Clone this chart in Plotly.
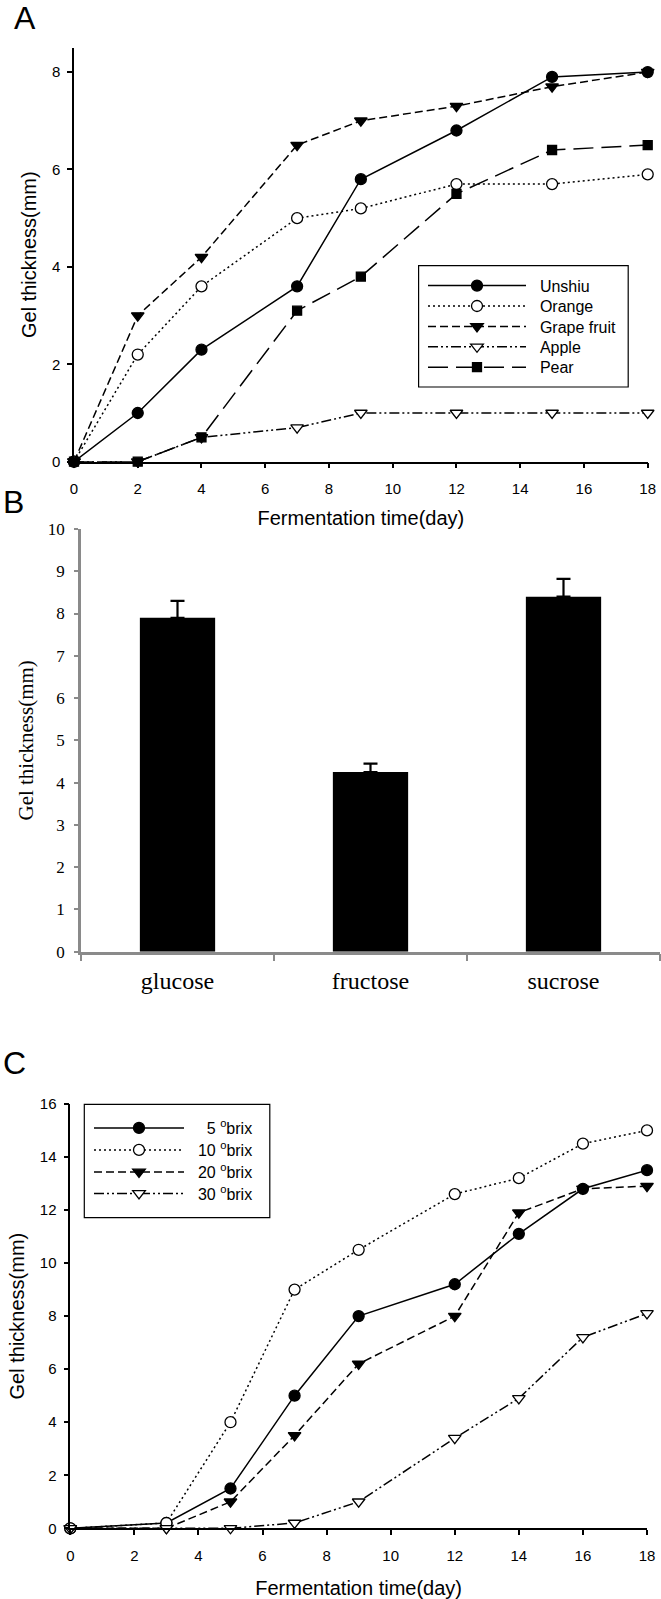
import plotly.graph_objects as go

# ---------------- data ----------------
days_a = [0, 2, 4, 7, 9, 12, 15, 18]
unshiu = [0, 1.0, 2.3, 3.6, 5.8, 6.8, 7.9, 8.0]
orange = [0, 2.2, 3.6, 5.0, 5.2, 5.7, 5.7, 5.9]
grapefruit = [0, 3.0, 4.2, 6.5, 7.0, 7.3, 7.7, 8.0]
apple = [0, 0, 0.5, 0.7, 1.0, 1.0, 1.0, 1.0]
pear = [0, 0, 0.5, 3.1, 3.8, 5.5, 6.4, 6.5]
fruit_names = ["Unshiu", "Orange", "Grape fruit", "Apple", "Pear"]

sugars = ["glucose", "fructose", "sucrose"]
sugar_gel = [7.9, 4.25, 8.4]
sugar_err = [0.4, 0.2, 0.42]

days_c = [0, 3, 5, 7, 9, 12, 14, 16, 18]
brix5 = [0, 0.2, 1.5, 5.0, 8.0, 9.2, 11.1, 12.8, 13.5]
brix10 = [0, 0.2, 4.0, 9.0, 10.5, 12.6, 13.2, 14.5, 15.0]
brix20 = [0, 0, 1.0, 3.5, 6.2, 8.0, 11.9, 12.8, 12.9]
brix30 = [0, 0, 0, 0.2, 1.0, 3.4, 4.9, 7.2, 8.1]
brix_levels = ["5", "10", "20", "30"]

# ---------------- layout helpers ----------------
W, H = 661, 1599
def px_x(p):
    return p / W
def px_y(p):
    return 1 - p / H

SANS = "Liberation Sans, Arial, sans-serif"
SERIF = "Liberation Serif, Times New Roman, serif"
NB = "\u00a0"

fig = go.Figure()

def line_trace(x, y, name, dash, symbol, filled, size, xa, ya, legend):
    return go.Scatter(
        x=x, y=y, name=name, mode="lines+markers",
        line=dict(color="black", width=1.5, dash=dash),
        marker=dict(symbol=symbol, size=size,
                    color="black" if filled else "white",
                    line=dict(color="black", width=1.3)),
        xaxis=xa, yaxis=ya, legend=legend, cliponaxis=False,
    )

DOT = "2px,3px"
DASH = "8px,4px"
DDD = "10px,3px,2px,3px,2px,3px"
LONG = "20px,8px"

legend_common = dict(xanchor="left", yanchor="middle", borderwidth=0,
                     bgcolor="rgba(0,0,0,0)",
                     font=dict(family=SANS, size=16, color="black"),
                     tracegroupgap=0)
legend_layout = {}
leg_idx = 0

def next_legend(x_left, y_center, itemwidth):
    global leg_idx
    leg_idx += 1
    key = "legend" if leg_idx == 1 else "legend%d" % leg_idx
    legend_layout[key] = dict(legend_common, x=px_x(x_left), y=px_y(y_center),
                              itemwidth=itemwidth)
    return key

# panel A legend rows
a_series = [unshiu, orange, grapefruit, apple, pear]
a_styles = [("solid", "circle", True, 11), (DOT, "circle", False, 11),
            (DASH, "triangle-down", True, 11), (DDD, "triangle-down", False, 11),
            (LONG, "square", True, 9)]
a_rows = [285.7, 306.1, 326.5, 346.9, 367.3]
for nm, ys, st, yr in zip(fruit_names, a_series, a_styles, a_rows):
    lg = next_legend(423, yr, 98)
    fig.add_trace(line_trace(days_a, ys, NB * 2 + nm, st[0], st[1], st[2], st[3],
                             "x", "y", lg))

fig.add_trace(go.Bar(
    x=sugars, y=sugar_gel, xaxis="x2", yaxis="y2", showlegend=False,
    marker=dict(color="black", line=dict(width=0)), width=0.39,
    error_y=dict(type="data", array=sugar_err, symmetric=False,
                 arrayminus=[0, 0, 0], color="black", thickness=2.2, width=7),
))

c_series = [brix5, brix10, brix20, brix30]
c_styles = [("solid", "circle", True, 11), (DOT, "circle", False, 11),
            (DASH, "triangle-down", True, 11), (DDD, "triangle-down", False, 11)]
c_rows = [1128, 1150, 1172, 1193.5]
for lv, ys, st, yr in zip(brix_levels, c_series, c_styles, c_rows):
    pad = NB * (4 if len(lv) == 1 else 2)
    lg = next_legend(89, yr, 90)
    fig.add_trace(line_trace(days_c, ys, pad + lv + " <sup>o</sup>brix",
                             st[0], st[1], st[2], st[3], "x3", "y3", lg))

axis_common = dict(showgrid=False, zeroline=False, showline=True, linecolor="black",
                   linewidth=1.5, ticks="outside", ticklen=5, tickwidth=1.5,
                   tickcolor="black", automargin=False,
                   tickfont=dict(family=SANS, size=15, color="black"))
title_font = dict(family=SANS, size=20, color="black")

fig.update_layout(
    width=W, height=H, autosize=False,
    margin=dict(l=0, r=0, t=0, b=0),
    paper_bgcolor="white", plot_bgcolor="white",
    showlegend=True,
    xaxis=dict(axis_common, domain=[px_x(74), px_x(647.7)], range=[0, 18],
               tickmode="linear", tick0=0, dtick=2, anchor="y", ticklabelstandoff=8,
               title=dict(text="Fermentation time(day)", font=title_font, standoff=15)),
    yaxis=dict(axis_common, domain=[px_y(461.7), px_y(47.7)], range=[0, 8.5],
               tickmode="linear", tick0=0, dtick=2, anchor="x", ticklabelstandoff=4,
               title=dict(text="Gel thickness(mm)", font=title_font, standoff=10)),
    xaxis2=dict(showgrid=False, zeroline=False, showline=True, linecolor="#8a8a8a",
                linewidth=2.5, ticks="outside", ticklen=7, tickwidth=2, tickcolor="#8a8a8a",
                tickson="boundaries", type="category", range=[-0.5, 2.5],
                domain=[px_x(81), px_x(660)], anchor="y2", automargin=False,
                tickfont=dict(family=SERIF, size=24, color="black"), ticklabelstandoff=6),
    yaxis2=dict(showgrid=False, zeroline=False, showline=True, linecolor="#8a8a8a",
                linewidth=2.5, ticks="outside", ticklen=4, tickwidth=2, tickcolor="#8a8a8a",
                range=[0, 10], tickmode="linear", tick0=0, dtick=1,
                domain=[px_y(951.7), px_y(529)], anchor="x2", automargin=False,
                tickfont=dict(family=SERIF, size=17, color="black"), ticklabelstandoff=6,
                title=dict(text="Gel thickness(mm)",
                           font=dict(family=SERIF, size=21, color="black"), standoff=9)),
    xaxis3=dict(axis_common, domain=[px_x(70.3), px_x(647)], range=[0, 18],
                tickmode="linear", tick0=0, dtick=2, anchor="y3", ticklabelstandoff=8,
                title=dict(text="Fermentation time(day)", font=title_font, standoff=25)),
    yaxis3=dict(axis_common, domain=[px_y(1528.3), px_y(1103.9)], range=[0, 16],
                tickmode="linear", tick0=0, dtick=2, anchor="x3", ticklabelstandoff=4,
                title=dict(text="Gel thickness(mm)", font=title_font, standoff=10)),
    **legend_layout,
)

# legend frames
for x0, y0, x1, y1 in [(418.6, 265.7, 628.2, 387.0), (84.3, 1104.3, 269.8, 1217.7)]:
    fig.add_shape(type="rect", xref="paper", yref="paper",
                  x0=px_x(x0), x1=px_x(x1), y0=px_y(y1), y1=px_y(y0),
                  line=dict(color="black", width=1.2), fillcolor="white", layer="below")

for label, xp, yp in [("A", 12, 18), ("B", 1, 502), ("C", 1, 1063)]:
    fig.add_annotation(text=label, x=px_x(xp), y=px_y(yp), xref="paper", yref="paper",
                       xanchor="left", yanchor="middle", showarrow=False,
                       font=dict(family=SANS, size=32, color="black"))

fig.write_html(
    "out.html",
    config={"displayModeBar": False},
    post_script="document.body.style.margin='0px';document.body.style.overflow='hidden';",
)
